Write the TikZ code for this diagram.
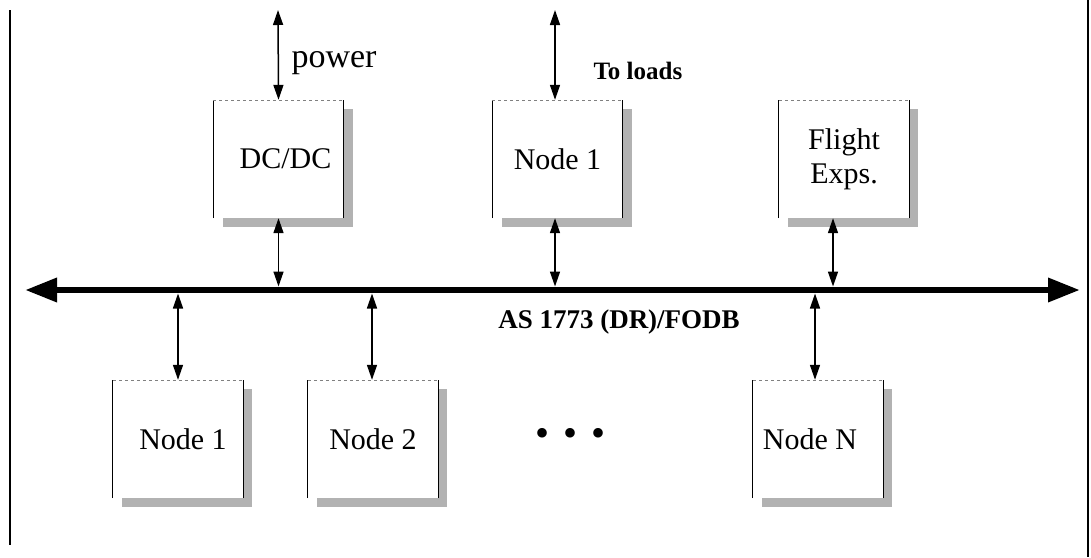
\documentclass[tikz,border=0pt]{standalone}
\usepackage{fontspec}
\setmainfont{Liberation Serif}
\usetikzlibrary{arrows.meta,shadows}

\tikzset{
  unit/.style={rectangle, minimum width=130pt, minimum height=118pt, inner sep=0pt,
    fill=white, align=center, font=\fontsize{30}{34}\selectfont,
    drop shadow={shadow xshift=9pt, shadow yshift=-9pt, opacity=1, fill=gray!60}},
  link/.style={line width=1.5pt, {Triangle[length=15pt,width=10pt]}-{Triangle[length=15pt,width=10pt]}},
  busline/.style={line width=6.5pt, {Triangle[length=32pt,width=23pt]}-{Triangle[length=32pt,width=23pt]}}
}

\begin{document}
\begin{tikzpicture}[x=1pt, y=-1pt]
  \useasboundingbox (0,0) rectangle (1091,557);

  % frame
  \draw[line width=1.5pt] (10,10) -- (10,545);
  \draw[line width=1.5pt] (1088,0) -- (1088,557);

  % units on top of the bus
  \node[unit] (dcdc) at (278.5,159) {\hspace*{14pt}DC/DC};
  \node[unit] (top1) at (557.5,159) {Node 1};
  \node[unit] (flt) at (844,159) {Flight\\Exps.};

  % units below the bus
  \node[unit] (node1) at (178,439) {\hspace*{10pt}Node 1};
  \node[unit] (node2) at (373,439) {Node 2};
  \node[unit] (nodeN) at (818,439) {Node N\hspace*{16pt}};

  % box edges, top edge is faint
  \foreach \b in {dcdc,top1,flt,node1,node2,nodeN}{
    \draw[line width=1.3pt] (\b.south west) -- (\b.north west);
    \draw[line width=1.3pt] (\b.south east) -- (\b.north east);
    \draw[gray, thin, dashed] (\b.north west) -- (\b.north east);
  }

  % bus
  \coordinate (busL) at (25,290);
  \coordinate (busR) at (1080,290);
  \draw[busline] (busL) -- (busR);
  \node[font=\bfseries\fontsize{27}{30}\selectfont] (busname) at (619,322) {AS 1773 (DR)/FODB};

  % outside connections
  \coordinate (pwr) at (278,10);
  \coordinate (loads) at (555,10);
  \draw[link] (pwr) -- (dcdc.north);
  \draw[link] (loads) -- (loads |- top1.north);
  \node[anchor=west, font=\fontsize{34}{38}\selectfont] (pwrname) at (288,63) {power};
  \node[anchor=west, font=\bfseries\fontsize{25}{28}\selectfont] (loadname) at (590,71) {To loads};

  % bus taps
  \draw[link, shorten >=3.5pt] (dcdc.south) -- (dcdc.south |- busL);
  \draw[link, shorten >=3.5pt] (loads |- top1.south) -- (loads |- busL);
  \draw[link, shorten >=3.5pt] ([xshift=-11pt]flt.south) -- ([xshift=-11pt]flt.south |- busL);
  \draw[link, shorten <=3.5pt] (node1.north |- busL) -- (node1.north);
  \draw[link, shorten <=3.5pt] ([xshift=-1pt]node2.north |- busL) -- ([xshift=-1pt]node2.north);
  \draw[link, shorten <=3.5pt] ([xshift=-3pt]nodeN.north |- busL) -- ([xshift=-3pt]nodeN.north);

  % more nodes
  \node[font=\fontsize{40}{44}\selectfont] (dots) at (570,437) {\textbullet\hspace{14pt}\textbullet\hspace{14pt}\textbullet};
\end{tikzpicture}
\end{document}
